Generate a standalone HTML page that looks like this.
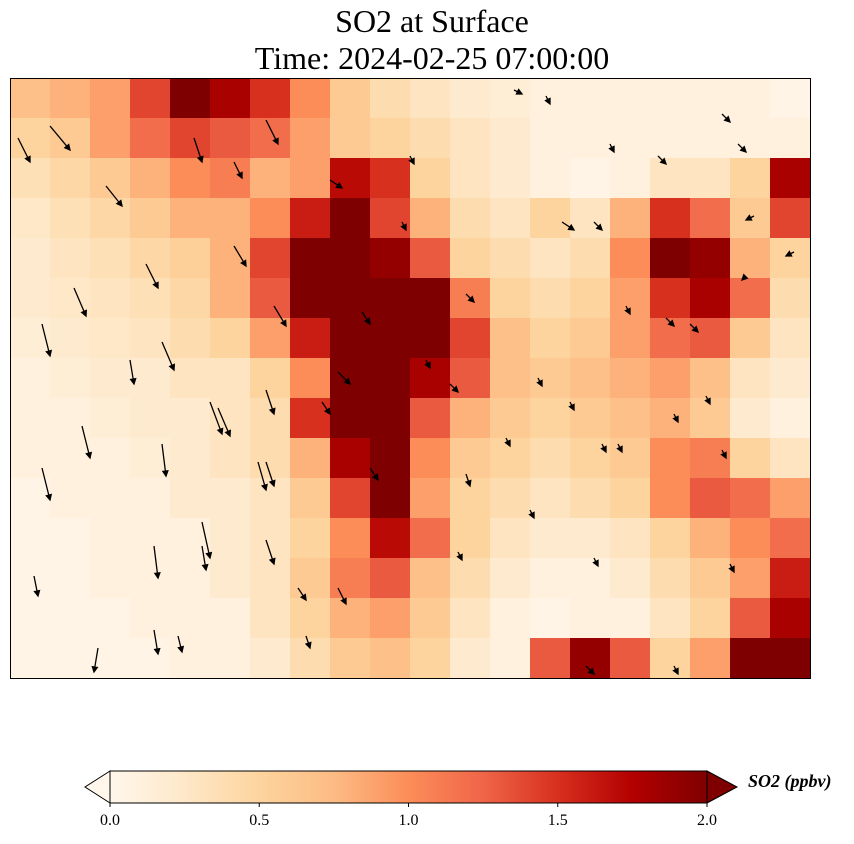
<!DOCTYPE html>
<html><head><meta charset="utf-8"><style>
body{margin:0;background:#fff;width:854px;height:839px;overflow:hidden;font-family:"Liberation Serif",serif}
</style></head><body>
<svg id="s" width="854" height="839" xmlns="http://www.w3.org/2000/svg">
<text x="432" y="32" text-anchor="middle" font-size="32" font-family="Liberation Serif, serif">SO2 at Surface</text>
<text x="432" y="69" text-anchor="middle" font-size="32" font-family="Liberation Serif, serif">Time: 2024-02-25 07:00:00</text>
<g id="map"></g>
<g id="arrows"></g>
<rect x="10.5" y="78.5" width="800" height="600" fill="none" stroke="#000" stroke-width="1"/>
<g id="cbar"></g>
<text x="748" y="787" font-size="18" font-weight="bold" font-style="italic" font-family="Liberation Serif, serif">SO2 (ppbv)</text>
</svg>
<script>
const values = [
[0.7,0.8,0.9,1.4,2.0,1.8,1.5,1.0,0.6,0.4,0.3,0.2,0.15,0.1,0.1,0.1,0.1,0.1,0.1,0.05],
[0.5,0.6,0.9,1.2,1.4,1.3,1.2,0.9,0.6,0.5,0.4,0.3,0.2,0.1,0.1,0.1,0.1,0.1,0.1,0.1],
[0.35,0.45,0.6,0.8,1.0,1.1,0.8,0.9,1.7,1.5,0.5,0.3,0.2,0.1,0.05,0.1,0.3,0.3,0.5,1.8],
[0.25,0.35,0.45,0.6,0.8,0.8,1.0,1.6,2.0,1.4,0.8,0.4,0.3,0.5,0.3,0.8,1.5,1.2,0.6,1.4],
[0.2,0.3,0.35,0.45,0.55,0.8,1.4,2.0,2.0,1.9,1.3,0.5,0.4,0.3,0.4,1.0,2.0,1.9,0.8,0.5],
[0.2,0.25,0.3,0.35,0.45,0.8,1.3,2.0,2.0,2.0,2.0,1.1,0.5,0.4,0.5,0.9,1.5,1.8,1.2,0.4],
[0.15,0.2,0.25,0.3,0.4,0.5,0.9,1.6,2.0,2.0,2.0,1.4,0.7,0.5,0.6,0.9,1.2,1.3,0.6,0.3],
[0.1,0.15,0.2,0.2,0.3,0.3,0.5,1.0,2.0,2.0,1.8,1.3,0.7,0.6,0.7,0.8,0.9,0.7,0.3,0.2],
[0.1,0.1,0.15,0.2,0.2,0.3,0.4,1.5,2.0,2.0,1.3,0.8,0.6,0.5,0.6,0.7,0.8,0.6,0.2,0.1],
[0.1,0.1,0.1,0.15,0.2,0.3,0.4,0.8,1.8,2.0,1.0,0.6,0.5,0.4,0.5,0.6,1.0,1.1,0.5,0.3],
[0.05,0.1,0.1,0.1,0.2,0.2,0.3,0.6,1.4,2.0,0.9,0.5,0.4,0.3,0.4,0.5,1.0,1.3,1.2,0.9],
[0.05,0.05,0.1,0.1,0.1,0.2,0.3,0.5,1.0,1.7,1.2,0.5,0.3,0.2,0.2,0.3,0.5,0.8,1.0,1.2],
[0.05,0.05,0.1,0.1,0.1,0.2,0.3,0.6,1.1,1.3,0.7,0.4,0.2,0.1,0.1,0.2,0.4,0.6,0.9,1.6],
[0.05,0.05,0.05,0.1,0.1,0.1,0.3,0.5,0.8,0.9,0.6,0.3,0.1,0.05,0.1,0.1,0.3,0.5,1.3,1.8],
[0.05,0.05,0.05,0.05,0.1,0.1,0.2,0.4,0.6,0.7,0.5,0.2,0.1,1.3,1.9,1.3,0.5,0.9,2.0,2.0]
];
const tickValues = [0.0,0.5,1.0,1.5,2.0];
const tickLabels = ["0.0","0.5","1.0","1.5","2.0"];
const windX = [0.01,0.05,0.12,0.23,0.28,0.32,0.40,0.50,0.63,0.67,0.75,0.81,0.89,0.91,0.93,0.08,0.17,0.28,0.49,0.69,0.73,0.98,0.04,0.15,0.19,0.33,0.44,0.57,0.77,0.85,0.09,0.26,0.32,0.41,0.52,0.66,0.82,0.92,0.04,0.19,0.25,0.39,0.55,0.70,0.83,0.24,0.32,0.45,0.62,0.74,0.87,0.18,0.31,0.57,0.65,0.76,0.89,0.03,0.24,0.41,0.56,0.73,0.90,0.18,0.32,0.37,0.72,0.83,0.11,0.21,0.36];
const windY = [0.10,0.08,0.18,0.10,0.14,0.07,0.17,0.13,0.02,0.03,0.11,0.13,0.06,0.11,0.23,0.35,0.31,0.28,0.24,0.24,0.24,0.29,0.41,0.47,0.44,0.38,0.39,0.36,0.38,0.41,0.58,0.55,0.52,0.49,0.47,0.50,0.40,0.33,0.65,0.61,0.54,0.54,0.51,0.54,0.56,0.74,0.64,0.65,0.60,0.61,0.53,0.78,0.64,0.66,0.72,0.61,0.62,0.83,0.78,0.85,0.79,0.80,0.81,0.92,0.77,0.93,0.98,0.98,0.95,0.93,0.85];
const windU = [0.3,0.5,0.4,0.2,0.2,0.3,0.3,0.1,0.2,0.1,0.1,0.2,0.2,0.2,-0.2,0.3,0.3,0.3,0.1,0.3,0.2,-0.2,0.2,0.1,0.3,0.3,0.2,0.2,0.1,0.2,0.2,0.3,0.2,0.3,0.1,0.1,0.2,-0.1,0.2,0.1,0.3,0.2,0.2,0.1,0.1,0.2,0.2,0.2,0.1,0.1,0.1,0.1,0.2,0.1,0.1,0.1,0.1,0.1,0.1,0.2,0.1,0.1,0.1,0.1,0.2,0.1,0.2,0.1,-0.1,0.1,0.2];
const windV = [-0.6,-0.6,-0.5,-0.6,-0.4,-0.6,-0.2,-0.2,-0.1,-0.2,-0.2,-0.2,-0.2,-0.2,-0.1,-0.7,-0.6,-0.5,-0.2,-0.2,-0.2,-0.1,-0.8,-0.6,-0.7,-0.5,-0.3,-0.2,-0.2,-0.2,-0.8,-0.7,-0.6,-0.3,-0.2,-0.2,-0.2,-0.1,-0.8,-0.8,-0.8,-0.3,-0.2,-0.2,-0.2,-0.9,-0.6,-0.3,-0.2,-0.2,-0.2,-0.8,-0.7,-0.3,-0.2,-0.2,-0.2,-0.5,-0.6,-0.4,-0.2,-0.2,-0.2,-0.6,-0.6,-0.3,-0.2,-0.2,-0.6,-0.4,-0.3];

const stops=["#fff7ec","#fee8c8","#fdd49e","#fdbb84","#fc8d59","#ef6548","#d7301f","#b30000","#7f0000"];
function hex(h){return [1,3,5].map(i=>parseInt(h.substr(i,2),16));}
function cmap(v){let t=Math.max(0,Math.min(1,v/2))*8;let i=Math.min(7,Math.floor(t));let f=t-i;
 const a=hex(stops[i]),b=hex(stops[i+1]);return "rgb("+a.map((c,k)=>Math.round(c+(b[k]-c)*f)).join(",")+")";}
const NS="http://www.w3.org/2000/svg";
const mx0=10,my0=78,mw=800,mh=600;
const nr=values.length,nc=values[0].length;
const xScale=c=>mx0+c*mw/nc, yScale=r=>my0+r*mh/nr;
const map=document.getElementById('map');
values.forEach((row,r)=>row.forEach((v,c)=>{
 const el=document.createElementNS(NS,'rect');
 el.setAttribute('x',xScale(c));el.setAttribute('y',yScale(r));
 el.setAttribute('width',mw/nc+0.5);el.setAttribute('height',mh/nr+0.5);
 el.setAttribute('fill',cmap(v));
 
 
 map.appendChild(el);}));
const ag=document.getElementById('arrows');
windX.forEach((wx,i)=>{
 const x=mx0+wx*mw,y=my0+windY[i]*mh,dx=windU[i]*40,dy=-windV[i]*40;
 const len=Math.hypot(dx,dy),ux=dx/len,uy=dy/len;
 const ex=x+dx,ey=y+dy;
 const g=document.createElementNS(NS,'path');
 const hl=5,hw=2.5;
 const bx=ex-ux*hl,by=ey-uy*hl;
 g.setAttribute('d',`M${x},${y}L${bx},${by}M${bx-uy*hw},${by+ux*hw}L${ex},${ey}L${bx+uy*hw},${by-ux*hw}Z`);
 g.setAttribute('stroke','#000');g.setAttribute('stroke-width','1.3');g.setAttribute('fill','#000');
 
 
 ag.appendChild(g);});
const cb=document.getElementById('cbar');
const cx0=110,cx1=707,cy=771,ch=32;
const cbScale=v=>cx0+(v-tickValues[0])/(tickValues[tickValues.length-1]-tickValues[0])*(cx1-cx0);
const defs=document.createElementNS(NS,'defs');
const lg=document.createElementNS(NS,'linearGradient');lg.id='g';
stops.forEach((s,i)=>{const st=document.createElementNS(NS,'stop');st.setAttribute('offset',i/8);st.setAttribute('stop-color',s);lg.appendChild(st);});
defs.appendChild(lg);cb.appendChild(defs);
const lt=document.createElementNS(NS,'path');lt.setAttribute('d',`M${cx0},${cy}L85,${cy+ch/2}L${cx0},${cy+ch}Z`);lt.setAttribute('fill',stops[0]);lt.setAttribute('stroke','#000');


cb.appendChild(lt);
const rt=document.createElementNS(NS,'path');rt.setAttribute('d',`M${cx1},${cy}L737,${cy+ch/2}L${cx1},${cy+ch}Z`);rt.setAttribute('fill',stops[8]);rt.setAttribute('stroke','#000');


cb.appendChild(rt);
const br=document.createElementNS(NS,'rect');br.setAttribute('x',cx0);br.setAttribute('y',cy);br.setAttribute('width',cx1-cx0);br.setAttribute('height',ch);br.setAttribute('fill','url(#g)');br.setAttribute('stroke','#000');


cb.appendChild(br);
tickValues.forEach((v,i)=>{
 const x=cbScale(v);
 const tk=document.createElementNS(NS,'line');tk.setAttribute('x1',x);tk.setAttribute('x2',x);tk.setAttribute('y1',cy+ch);tk.setAttribute('y2',cy+ch+4);tk.setAttribute('stroke','#000');
 
 
 cb.appendChild(tk);
 const t=document.createElementNS(NS,'text');t.setAttribute('x',x);t.setAttribute('y',825);t.setAttribute('text-anchor','middle');t.setAttribute('font-size','16');t.textContent=tickLabels[i];
 
 
 cb.appendChild(t);});
</script>
</body></html>
